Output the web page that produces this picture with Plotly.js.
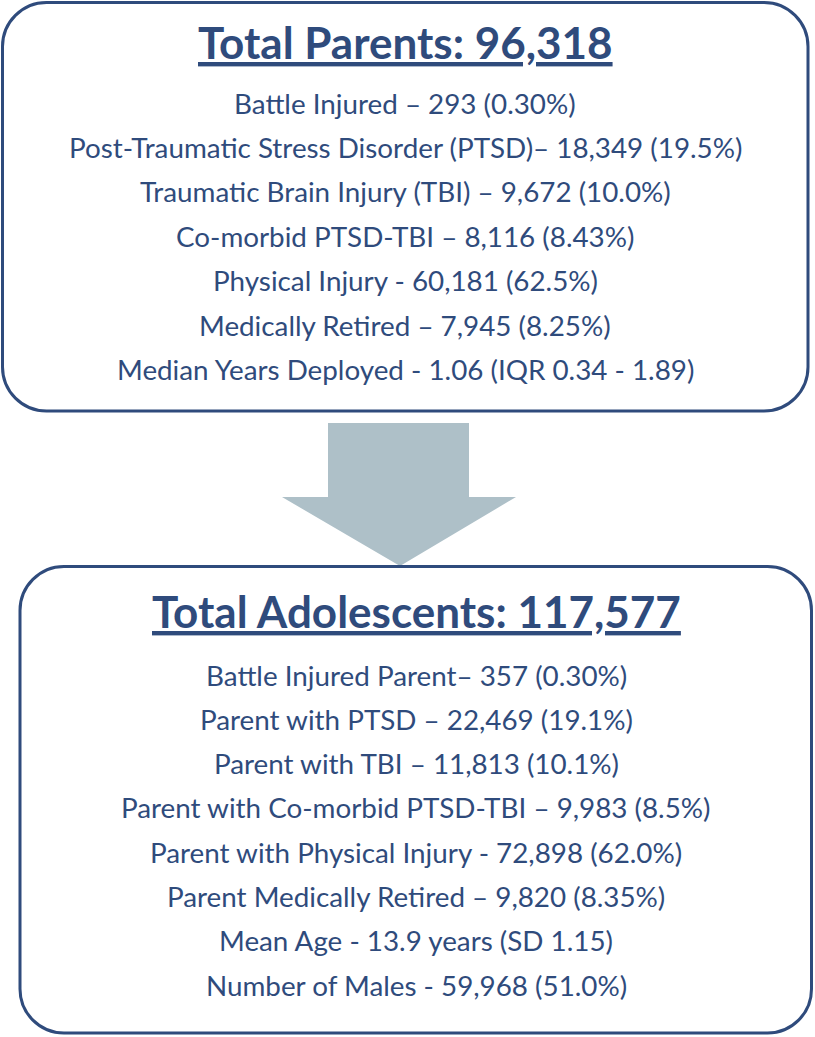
<!DOCTYPE html>
<html>
<head>
<meta charset="utf-8">
<script src="https://cdn.plot.ly/plotly-3.0.1.min.js"></script>
<style>html,body{margin:0;padding:0;background:#fff;}#chart{width:815px;height:1037px;}</style>
</head>
<body>
<div id="chart"></div>
<script>
// ---- Data ----
const parentsTitle = "Total Parents: 96,318";
const parentsLines = [
  "Battle Injured \u2013 293 (0.30%)",
  "Post-Traumatic Stress Disorder (PTSD)\u2013 18,349 (19.5%)",
  "Traumatic Brain Injury (TBI) \u2013 9,672 (10.0%)",
  "Co-morbid PTSD-TBI \u2013 8,116 (8.43%)",
  "Physical Injury - 60,181 (62.5%)",
  "Medically Retired \u2013 7,945 (8.25%)",
  "Median Years Deployed - 1.06 (IQR 0.34 - 1.89)"
];
const adolescentsTitle = "Total Adolescents: 117,577";
const adolescentsLines = [
  "Battle Injured Parent\u2013 357 (0.30%)",
  "Parent with PTSD \u2013 22,469 (19.1%)",
  "Parent with TBI \u2013 11,813 (10.1%)",
  "Parent with Co-morbid PTSD-TBI \u2013 9,983 (8.5%)",
  "Parent with Physical Injury - 72,898 (62.0%)",
  "Parent Medically Retired \u2013 9,820 (8.35%)",
  "Mean Age - 13.9 years (SD 1.15)",
  "Number of Males - 59,968 (51.0%)"
];

// ---- Layout helpers ----
const W = 815, H = 1037;
const C_TEXT = "#2F4B7C";
const C_ARROW = "#AEC0C8";
const FONT = "Lato, 'Open Sans', sans-serif";

function roundRect(x0, y0, x1, y1, r) {
  const k = 0.5523 * r;
  return `M ${x0 + r},${y0} L ${x1 - r},${y0} C ${x1 - r + k},${y0} ${x1},${y0 + r - k} ${x1},${y0 + r} ` +
         `L ${x1},${y1 - r} C ${x1},${y1 - r + k} ${x1 - r + k},${y1} ${x1 - r},${y1} ` +
         `L ${x0 + r},${y1} C ${x0 + r - k},${y1} ${x0},${y1 - r + k} ${x0},${y1 - r} ` +
         `L ${x0},${y0 + r} C ${x0},${y0 + r - k} ${x0 + r - k},${y0} ${x0 + r},${y0} Z`;
}

const boxes = [
  {x0: 2.5, y0: 2.5, x1: 808, y1: 411, cx: 405, titleY: 42, firstY: 103, step: 44.4, title: parentsTitle, lines: parentsLines},
  {x0: 20, y0: 566.5, x1: 811.5, y1: 1033, cx: 416, titleY: 611, firstY: 675, step: 44.3, title: adolescentsTitle, lines: adolescentsLines}
];

const shapes = [];
const annotations = [];
boxes.forEach(b => {
  shapes.push({type: "path", xref: "x", yref: "y", path: roundRect(b.x0, b.y0, b.x1, b.y1, 44),
    line: {color: C_TEXT, width: 3}, fillcolor: "rgba(0,0,0,0)"});
  annotations.push({x: b.cx, y: b.titleY, xref: "x", yref: "y", text: "<b>" + b.title + "</b>",
    showarrow: false, xanchor: "center", yanchor: "middle",
    font: {family: FONT, size: 44, color: C_TEXT, lineposition: "under"}});
  b.lines.forEach((t, i) => {
    annotations.push({x: b.cx, y: b.firstY + i * b.step, xref: "x", yref: "y", text: t,
      showarrow: false, xanchor: "center", yanchor: "middle",
      font: {family: FONT, size: 27.8, color: C_TEXT}});
  });
});

// Arrow
shapes.push({type: "path", xref: "x", yref: "y", layer: "below",
  path: "M 328,423 L 469,423 L 469,497 L 516,497 L 400,566 L 282,497 L 328,497 Z",
  line: {width: 0}, fillcolor: C_ARROW});

Plotly.newPlot("chart", [], {
  width: W, height: H,
  margin: {l: 0, r: 0, t: 0, b: 0},
  paper_bgcolor: "#fff", plot_bgcolor: "#fff",
  xaxis: {range: [0, W], visible: false, fixedrange: true},
  yaxis: {range: [H, 0], visible: false, fixedrange: true},
  showlegend: false,
  shapes: shapes,
  annotations: annotations
}, {staticPlot: true, displayModeBar: false});
</script>
</body>
</html>
